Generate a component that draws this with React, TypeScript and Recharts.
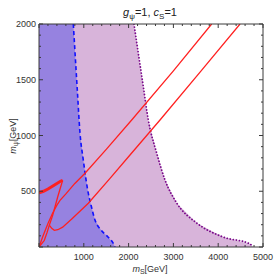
import { ComposedChart, Area, Line, XAxis, YAxis } from 'recharts';

// SI excluded boundary (dashed blue), m_S vs m_psi
const siBoundary = [
  { ms: 766, mpsi: 2000 },
  { ms: 855, mpsi: 1408 },
  { ms: 915, mpsi: 1022 },
  { ms: 989, mpsi: 780 },
  { ms: 1087, mpsi: 511 },
  { ms: 1161, mpsi: 377 },
  { ms: 1250, mpsi: 242 },
  { ms: 1384, mpsi: 152 },
  { ms: 1540, mpsi: 90 },
  { ms: 1652, mpsi: 36 },
  { ms: 1696, mpsi: 0 },
];

// DARWIN projected reach (dotted purple)
const darwinBoundary = [
  { ms: 2120, mpsi: 2000 },
  { ms: 2217, mpsi: 1737 },
  { ms: 2329, mpsi: 1437 },
  { ms: 2440, mpsi: 1139 },
  { ms: 2627, mpsi: 843 },
  { ms: 2813, mpsi: 601 },
  { ms: 3073, mpsi: 395 },
  { ms: 3520, mpsi: 215 },
  { ms: 4107, mpsi: 90 },
  { ms: 4710, mpsi: 27 },
  { ms: 4777, mpsi: 0 },
];

// PLANCK relic density branches
const planckUpper = [
  { ms: 0, mpsi: 0 },
  { ms: 100, mpsi: 110 },
  { ms: 200, mpsi: 210 },
  { ms: 300, mpsi: 300 },
  { ms: 400, mpsi: 375 },
  { ms: 469, mpsi: 419 },
  { ms: 600, mpsi: 476 },
  { ms: 800, mpsi: 570 },
  { ms: 1027, mpsi: 661 },
  { ms: 1511, mpsi: 880 },
  { ms: 2069, mpsi: 1139 },
  { ms: 3000, mpsi: 1580 },
  { ms: 3854, mpsi: 2000 },
];

const planckLower = [
  { ms: 230, mpsi: 195 },
  { ms: 290, mpsi: 165 },
  { ms: 342, mpsi: 150 },
  { ms: 420, mpsi: 155 },
  { ms: 528, mpsi: 178 },
  { ms: 737, mpsi: 254 },
  { ms: 1101, mpsi: 392 },
  { ms: 1585, mpsi: 616 },
  { ms: 2031, mpsi: 825 },
  { ms: 2701, mpsi: 1139 },
  { ms: 3600, mpsi: 1570 },
  { ms: 4487, mpsi: 2000 },
];

const planckBlob = [
  { ms: 0, mpsi: 487 },
  { ms: 100, mpsi: 500 },
  { ms: 200, mpsi: 520 },
  { ms: 300, mpsi: 545 },
  { ms: 400, mpsi: 570 },
  { ms: 480, mpsi: 590 },
  { ms: 528, mpsi: 598 },
];

const planckZ = [
  { ms: 528, mpsi: 598 },
  { ms: 470, mpsi: 520 },
  { ms: 417, mpsi: 448 },
  { ms: 350, mpsi: 350 },
  { ms: 305, mpsi: 284 },
  { ms: 230, mpsi: 195 },
  { ms: 180, mpsi: 130 },
  { ms: 118, mpsi: 60 },
  { ms: 0, mpsi: 0 },
];

const siFill = [{ ms: 0, mpsi: 2000 }, ...siBoundary];
const darwinFill = [{ ms: 0, mpsi: 2000 }, ...darwinBoundary];

const xTicks = Array.from({ length: 26 }, (_, i) => i * 200);
const yTicks = Array.from({ length: 21 }, (_, i) => i * 100);
const xLabels = [1000, 2000, 3000, 4000, 5000];
const yLabels = [500, 1000, 1500, 2000];

const FONT = '"Liberation Sans", Arial, sans-serif';
const FRAME = '#3a3a3a';

const BottomTick = (props: any) => {
  const { x, y, payload } = props;
  const v = payload.value;
  const major = v % 1000 === 0;
  return (
    <g>
      <line x1={x} x2={x} y1={y} y2={y - (major ? 4 : 2)} stroke={FRAME} />
      {xLabels.includes(v) && (
        <text x={x} y={y + 13} textAnchor="middle" fontSize={9} fill="#333" fontFamily={FONT}>
          {v}
        </text>
      )}
    </g>
  );
};

const TopTick = (props: any) => {
  const { x, y, payload } = props;
  const major = payload.value % 1000 === 0;
  return <line x1={x} x2={x} y1={y} y2={y + (major ? 4 : 2)} stroke={FRAME} />;
};

const LeftTick = (props: any) => {
  const { x, y, payload } = props;
  const v = payload.value;
  const major = v % 500 === 0;
  return (
    <g>
      <line x1={x} x2={x + (major ? 4 : 2)} y1={y} y2={y} stroke={FRAME} />
      {yLabels.includes(v) && (
        <text x={x - 3} y={y + 3} textAnchor="end" fontSize={9} fill="#333" fontFamily={FONT}>
          {v}
        </text>
      )}
    </g>
  );
};

const RightTick = (props: any) => {
  const { x, y, payload } = props;
  const major = payload.value % 500 === 0;
  return <line x1={x} x2={x - (major ? 4 : 2)} y1={y} y2={y} stroke={FRAME} />;
};

export default function App() {
  return (
    <div style={{ position: 'absolute', left: 0, top: 0, width: 274, height: 279, background: '#fff' }}>
      <ComposedChart width={274} height={279} margin={{ top: 23, right: 10, bottom: 31, left: 38 }}>
        <XAxis xAxisId="b" type="number" dataKey="ms" domain={[0, 5000]} allowDataOverflow ticks={xTicks}
          interval={0} height={1} tickSize={0} tickMargin={0} tickLine={false} tick={<BottomTick />}
          axisLine={{ stroke: FRAME }} />
        <XAxis xAxisId="t" orientation="top" type="number" dataKey="ms" domain={[0, 5000]} allowDataOverflow
          ticks={xTicks} interval={0} height={1} tickSize={0} tickMargin={0} tickLine={false} tick={<TopTick />}
          axisLine={{ stroke: FRAME }} />
        <YAxis yAxisId="l" type="number" dataKey="mpsi" domain={[0, 2000]} allowDataOverflow ticks={yTicks}
          interval={0} width={1} tickSize={0} tickMargin={0} tickLine={false} tick={<LeftTick />}
          axisLine={{ stroke: FRAME }} />
        <YAxis yAxisId="r" orientation="right" type="number" dataKey="mpsi" domain={[0, 2000]} allowDataOverflow
          ticks={yTicks} interval={0} width={1} tickSize={0} tickMargin={0} tickLine={false} tick={<RightTick />}
          axisLine={{ stroke: FRAME }} />

        <Area xAxisId="b" yAxisId="l" data={darwinFill} dataKey="mpsi" type="linear" stroke="none"
          fill="#d8b4da" fillOpacity={1} isAnimationActive={false} />
        <Area xAxisId="b" yAxisId="l" data={siFill} dataKey="mpsi" type="linear" stroke="none"
          fill="#9682e0" fillOpacity={1} isAnimationActive={false} />
        <Line xAxisId="t" yAxisId="r" data={siBoundary} dataKey="mpsi" stroke="none" dot={false}
          isAnimationActive={false} legendType="none" />

        <Line xAxisId="b" yAxisId="l" data={darwinBoundary} dataKey="mpsi" type="monotone" stroke="#7a0a8a"
          strokeWidth={1.8} strokeDasharray="0.1 3" strokeLinecap="round" dot={false} isAnimationActive={false} />
        <Line xAxisId="b" yAxisId="l" data={siBoundary} dataKey="mpsi" type="monotone" stroke="#1010ff"
          strokeWidth={1.6} strokeDasharray="4 3" dot={false} isAnimationActive={false} />

        <Line xAxisId="b" yAxisId="l" data={planckBlob} dataKey="mpsi" type="linear" stroke="#ff2020"
          strokeWidth={3} dot={false} isAnimationActive={false} />
        <Line xAxisId="b" yAxisId="l" data={planckZ} dataKey="mpsi" type="linear" stroke="#ff2020"
          strokeWidth={1.3} dot={false} isAnimationActive={false} />
        <Line xAxisId="b" yAxisId="l" data={planckUpper} dataKey="mpsi" type="linear" stroke="#ff2020"
          strokeWidth={1.3} dot={false} isAnimationActive={false} />
        <Line xAxisId="b" yAxisId="l" data={planckLower} dataKey="mpsi" type="linear" stroke="#ff2020"
          strokeWidth={1.3} dot={false} isAnimationActive={false} />

        <text x={150} y={16} textAnchor="middle" fontSize={11} fill="#222" fontFamily={FONT}>
          <tspan fontStyle="italic">g</tspan>
          <tspan fontSize={8} dy={3}>ψ</tspan>
          <tspan dy={-3}>=1, </tspan>
          <tspan fontStyle="italic">c</tspan>
          <tspan fontSize={8} dy={3}>S</tspan>
          <tspan dy={-3}>=1</tspan>
        </text>
        <text x={150} y={272} textAnchor="middle" fontSize={9} fill="#333" fontFamily={FONT}>
          <tspan fontStyle="italic">m</tspan>
          <tspan fontSize={7} dy={2}>S</tspan>
          <tspan dy={-2}>[GeV]</tspan>
        </text>
        <text x={0} y={0} transform="translate(16,136) rotate(-90)" textAnchor="middle" fontSize={9} fill="#333"
          fontFamily={FONT}>
          <tspan fontStyle="italic">m</tspan>
          <tspan fontSize={7} dy={2}>ψ</tspan>
          <tspan dy={-2}>[GeV]</tspan>
        </text>
        <text x={50} y={93} fontSize={9} fill="#2a2aff" fontFamily={FONT}>SI Excluded</text>
        <text x={125} y={173} fontSize={9} fill="#ff2020" fontFamily={FONT}>PLANCK</text>
        <text x={111} y={218} fontSize={9} fill="#8a1a90" fontFamily={FONT}>DARWIN</text>
      </ComposedChart>
    </div>
  );
}
